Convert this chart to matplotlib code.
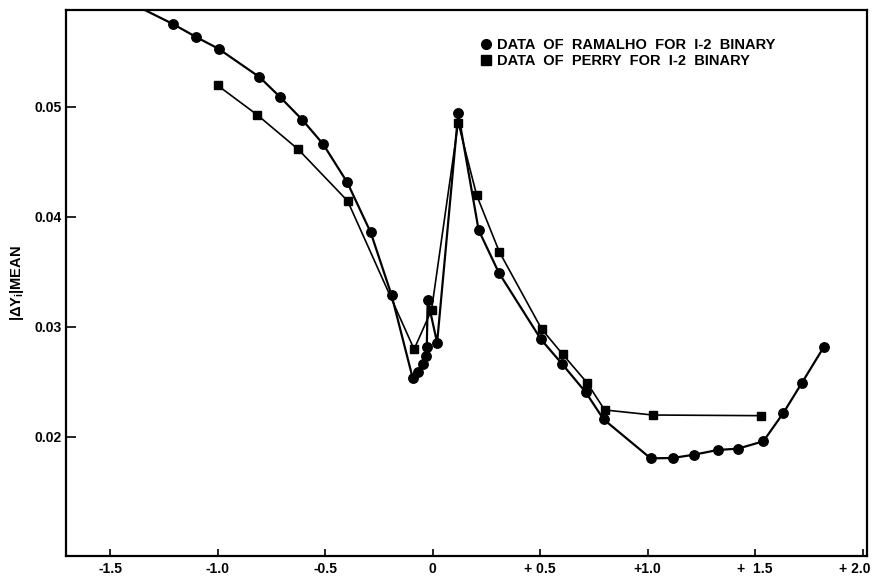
import matplotlib
matplotlib.use("Agg")
import matplotlib.pyplot as plt
from matplotlib.transforms import ScaledTranslation

plt.rcParams['font.family'] = ['Liberation Sans', 'DejaVu Sans']
plt.rcParams['mathtext.fontset'] = 'custom'
plt.rcParams['mathtext.rm'] = 'Liberation Sans:bold'
plt.rcParams['mathtext.it'] = 'Liberation Sans:bold'
plt.rcParams['mathtext.bf'] = 'Liberation Sans:bold'

# Ramalho, 1-2 binary
ramalho_x = [-1.40, -1.207, -1.101, -0.995, -0.805, -0.710, -0.606, -0.509, -0.397,
             -0.288, -0.191, -0.093, -0.067, -0.044, -0.033, -0.027, -0.023, 0.021,
             0.119, 0.214, 0.308, 0.504, 0.601, 0.712, 0.795, 1.014, 1.116, 1.215,
             1.326, 1.420, 1.538, 1.631, 1.716, 1.820]
ramalho_y = [0.0594, 0.05752, 0.05636, 0.05527, 0.0527, 0.0509, 0.04882, 0.0466, 0.04313,
             0.03858, 0.03288, 0.02536, 0.02591, 0.02658, 0.02733, 0.02815, 0.03245, 0.02855,
             0.0494, 0.03879, 0.03491, 0.02885, 0.02664, 0.02404, 0.02158, 0.01803, 0.01806,
             0.01836, 0.01879, 0.01891, 0.01958, 0.02215, 0.02485, 0.02818]

# Perry, 1-2 binary
perry_x = [-1.000, -0.816, -0.625, -0.395, -0.086, -0.005, 0.119, 0.205, 0.310,
           0.507, 0.605, 0.718, 0.800, 1.023, 1.526]
perry_y = [0.05195, 0.04927, 0.04613, 0.04143, 0.02795, 0.03152, 0.04855, 0.04195, 0.03682,
           0.02979, 0.02749, 0.02491, 0.02243, 0.02197, 0.02191]

x_ticks = [-1.5, -1.0, -0.5, 0.0, 0.5, 1.0, 1.5, 2.0]
x_ticklabels = ["-1.5", "-1.0", "-0.5", "0", "+ 0.5", "+1.0", "+  1.5", "+ 2.0"]
y_ticks = [0.02, 0.03, 0.04, 0.05]
y_ticklabels = ["0.02", "0.03", "0.04", "0.05"]

fig = plt.figure(figsize=(8.76, 5.82), dpi=100)
ax = fig.add_axes([0.0753, 0.0447, 0.9144, 0.9381])

ax.plot(ramalho_x, ramalho_y, color='black', lw=1.6, marker='o', ms=6.8,
        label='DATA  OF  RAMALHO  FOR  I-2  BINARY')
ax.plot(perry_x, perry_y, color='black', lw=1.2, marker='s', ms=6.3,
        label='DATA  OF  PERRY  FOR  I-2  BINARY')

ax.set_xlim(-1.705, 2.02)
ax.set_ylim(0.00915, 0.0588)

ax.set_xticks(x_ticks)
ax.set_xticklabels(x_ticklabels, fontsize=10, fontweight='bold')
ax.set_yticks(y_ticks)
ax.set_yticklabels(y_ticklabels, fontsize=10, fontweight='bold')
ax.tick_params(axis='x', direction='in', length=5, width=1.2, pad=4)
ax.tick_params(axis='y', direction='in', length=7, width=1.2, pad=3)

# pull the last x label in from the figure edge
last = ax.get_xticklabels()[-1]
last.set_transform(last.get_transform() + ScaledTranslation(-8 / 100, 0, fig.dpi_scale_trans))

for s in ax.spines.values():
    s.set_linewidth(1.6)

ax.set_ylabel(r"$|\Delta Y_{i}|$MEAN", fontsize=10.5, fontweight='bold', labelpad=6)

leg = ax.legend(loc='upper left', bbox_to_anchor=(0.524, 0.948), frameon=False,
                handlelength=0, handletextpad=0.75, labelspacing=0.1,
                borderaxespad=0, borderpad=0,
                prop={'size': 10.5, 'weight': 'bold'})
for h in leg.legend_handles:
    h.set_markersize(7)

fig.savefig("out.png", dpi=100)
